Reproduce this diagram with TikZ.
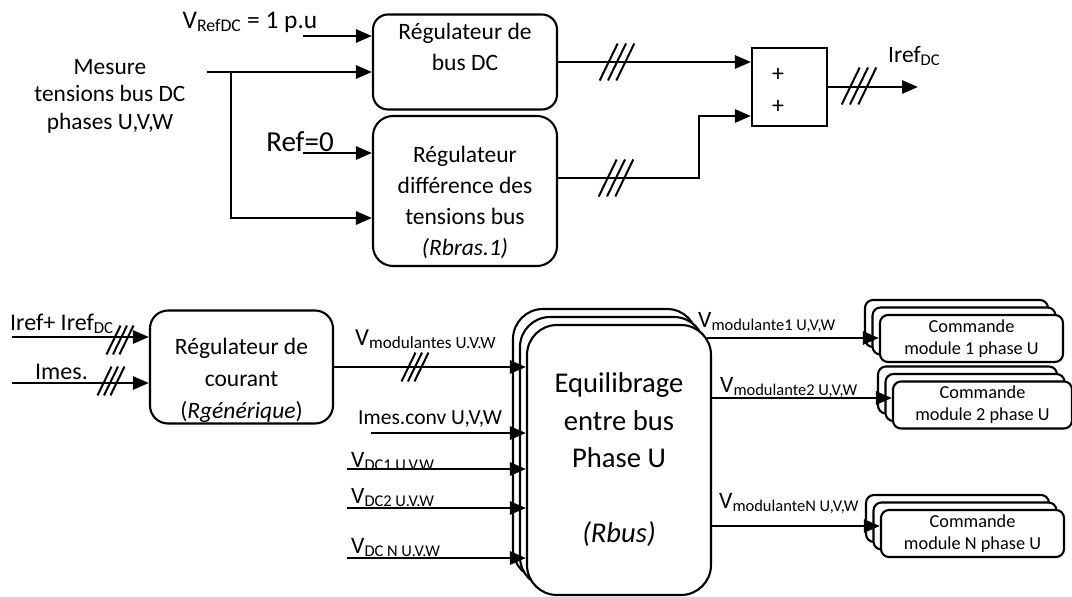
\documentclass[tikz,border=0pt]{standalone}
\usepackage{fontspec}
\setmainfont{Carlito}
\usetikzlibrary{arrows.meta}

\tikzset{
  blk/.style={draw, line width=2.1pt, fill=white, inner sep=0pt, rounded corners=#1},
  blk/.default=15pt,
  txt/.style={font=\fontsize{23.5}{31}\selectfont, align=center, inner sep=0pt},
  lbl/.style={font=\fontsize{23.5}{27}\selectfont, inner sep=0pt},
  cmdbox/.style={blk=8pt, minimum width=183pt, minimum height=47pt,
    font=\fontsize{18.3}{22}\selectfont, align=center},
  sig/.style={line width=2.8pt, -{Triangle[length=16pt,width=13pt]}},
  slashes/.pic={
    \foreach \d in {-8.3,0,8.3}
      \draw[line width=2pt] (\d-9,18.5) -- (\d+9,-18.5);
  }
}

\begin{document}
\begin{tikzpicture}[x=1pt,y=-1pt]
\useasboundingbox (0,0) rectangle (1072,597);

%DC bus regulators
\node[txt, font=\fontsize{23.4}{27.5}\selectfont] (mes) at (110,96) {Mesure\\tensions bus DC\\phases U,V,W};
\node[lbl, font=\fontsize{25.4}{30}\selectfont] (vreflbl) at (250,22) {V\textsubscript{RefDC} = 1 p.u};
\node[lbl, font=\fontsize{29}{34}\selectfont] (reflbl) at (300,142) {Ref=0};

\node[blk, minimum width=184pt, minimum height=95pt] (regbus) at (465,62) {};
\node[txt] (regbustxt) at (465,47) {Régulateur de\\bus DC};
\node[blk=20pt, minimum width=184pt, minimum height=150pt] (regdiff) at (465,191) {};
\node[txt] (regdifftxt) at (465,202) {Régulateur\\différence des\\tensions bus\\\textit{(Rbras.1)}};

\node[draw, line width=2.1pt, inner sep=0pt, minimum width=75pt, minimum height=78pt] (sum) at (789.5,87) {};
\node[txt, font=\fontsize{24}{28}\selectfont] (plusA) at (778,75) {+};
\node[txt, font=\fontsize{24}{28}\selectfont] (plusB) at (778,107) {+};
\node[lbl, anchor=base west] (irefdclbl) at (888,62) {Iref\textsubscript{DC}};

\coordinate (vref) at (303,36);
\coordinate (ref0) at (303,153);
\coordinate (mesout) at (207,72);
\coordinate (br) at (231,72);
\coordinate (in2) at (231,218);
\coordinate (dout) at ([yshift=13pt]regdiff.east);
\coordinate (dk) at (699,116);
\coordinate (irefout) at (918,87);

\draw[sig] (vref) -- (vref -| regbus.west);
\draw[sig] (mesout) -- (mesout -| regbus.west);
\draw[sig] (br) -- (in2) -- (in2 -| regdiff.west);
\draw[sig] (ref0) -- (ref0 -| regdiff.west);
\draw[sig] (regbus.east) -- (regbus.east -| sum.west);
\draw[sig] (dout) -| (dk) -- (dk -| sum.west);
\draw[sig] (sum.east) -- (irefout);
\pic at (617,62) {slashes};
\pic at (616,178) {slashes};
\pic at (859,86) {slashes};

%current regulator and balancing
\node[lbl, font=\fontsize{24}{28}\selectfont, anchor=base west] (ireflbl) at (10,330) {Iref+ Iref\textsubscript{DC}};
\node[lbl, font=\fontsize{24}{28}\selectfont, anchor=base west] (imeslbl) at (35,379) {Imes.};
\node[blk=18pt, minimum width=183pt, minimum height=113pt] (regcour) at (241.5,367) {};
\node[txt, font=\fontsize{23.5}{32}\selectfont] (regcourtxt) at (241.5,380) {Régulateur de\\courant\\(\textit{Rgénérique})};

\node[blk=30pt, minimum width=184pt, minimum height=270pt] (equil-c) at (605,444) {};
\node[blk=30pt, minimum width=184pt, minimum height=270pt] (equil-b) at (612,452) {};
\node[blk=30pt, minimum width=184pt, minimum height=270pt, align=center,
  font=\fontsize{28.6}{37.5}\selectfont] (equil) at (619,460)
  {Equilibrage\\entre bus\\Phase U\\[37.5pt]\textit{(Rbus)}};

\node[lbl, font=\fontsize{24.5}{28}\selectfont, anchor=base west] (vmodlbl) at (355,345) {V\textsubscript{modulantes U.V.W}};
\node[lbl, font=\fontsize{21.5}{25}\selectfont, anchor=base west] (imclbl) at (358,424) {Imes.conv U,V,W};
\node[lbl, anchor=base west] (vdc1lbl) at (351,467) {V\textsubscript{DC1 U.V.W}};
\node[lbl, anchor=base west] (vdc2lbl) at (351,503) {V\textsubscript{DC2 U.V.W}};
\node[lbl, anchor=base west] (vdcnlbl) at (351,553) {V\textsubscript{DC N U.V.W}};

\coordinate (irefin) at (12,337);
\coordinate (imesin) at (12,383);
\coordinate (imc) at (371,433);
\coordinate (vdc1) at (347,469);
\coordinate (vdc2) at (347,508);
\coordinate (vdcn) at (347,558);

\draw[sig] (irefin) -- (irefin -| regcour.west);
\draw[sig] (imesin) -- (imesin -| regcour.west);
\draw[sig] (regcour.east) -- (regcour.east -| equil.west);
\foreach \c in {imc,vdc1,vdc2,vdcn}
  \draw[sig] (\c) -- (\c -| equil.west);
\pic[scale=0.78] at (120,340) {slashes};
\pic[scale=0.78] at (111,381) {slashes};
\pic[scale=0.78] at (415,367) {slashes};

%module commands
\foreach \n/\x/\y/\w/\m in {1/971.5/338.5/183/1, 2/982.5/405/179/2, N/972.5/533.5/183/N} {
  \node[cmdbox, minimum width=\w pt] (cmd\n-c) at (\x-15,\y-15) {};
  \node[cmdbox, minimum width=\w pt] (cmd\n-b) at (\x-7.5,\y-7.5) {};
  \node[cmdbox, minimum width=\w pt] (cmd\n) at (\x,\y) {Commande\\module \m{} phase U};
}

\node[lbl, anchor=base west] (vm1lbl) at (698,327) {V\textsubscript{modulante1 U,V,W}};
\node[lbl, anchor=base west] (vm2lbl) at (720,392) {V\textsubscript{modulante2 U,V,W}};
\node[lbl, anchor=base west] (vmnlbl) at (719,508) {V\textsubscript{modulanteN U,V,W}};

\coordinate (om1) at (707,338);
\coordinate (om2) at (712,398);
\coordinate (omn) at (710,526);
\draw[sig] (om1) -- (om1 -| cmd1.west);
\draw[sig] (om2) -- (om2 -| cmd2.west);
\draw[sig] (omn) -- (omn -| cmdN.west);

\end{tikzpicture}
\end{document}
